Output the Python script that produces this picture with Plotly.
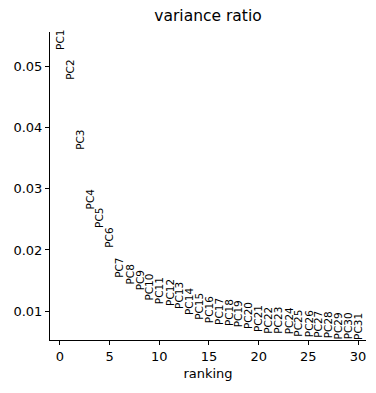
import plotly.graph_objects as go

ranking = list(range(31))
labels = [f"PC{i+1}" for i in range(31)]
variance_ratio = [0.0544, 0.0495, 0.0380, 0.0284, 0.0252, 0.0221, 0.0170, 0.0159,
                  0.0151, 0.0139, 0.0133, 0.0130, 0.0125, 0.0115, 0.0107, 0.0103,
                  0.0100, 0.0098, 0.0096, 0.0093, 0.0088, 0.0085, 0.0085, 0.0084,
                  0.0080, 0.0079, 0.0078, 0.0077, 0.0075, 0.0075, 0.0074]

fig = go.Figure()
fig.add_trace(go.Scatter(x=ranking, y=variance_ratio, mode="markers",
                         marker=dict(opacity=0), hoverinfo="skip", showlegend=False))
for x, y, t in zip(ranking, variance_ratio, labels):
    fig.add_annotation(x=x, y=y, text=t, textangle=-90, showarrow=False,
                       xanchor="center", yanchor="middle",
                       font=dict(family="DejaVu Sans", size=10.5, color="black"))

fig.update_layout(
    width=376, height=393,
    margin=dict(l=50, r=10, t=32, b=53),
    plot_bgcolor="white", paper_bgcolor="white",
    font=dict(family="DejaVu Sans", color="black"),
    title=dict(text="variance ratio", x=0.5, xanchor="center", xref="paper",
               y=1, yref="container", yanchor="top", pad=dict(t=10),
               font=dict(size=15.5, color="black")),
    showlegend=False,
)
fig.update_xaxes(range=[-1.0, 30.8], tickvals=[0, 5, 10, 15, 20, 25, 30],
                 showgrid=False, zeroline=False, showline=True, linecolor="black",
                 linewidth=1, ticks="outside", ticklen=4, tickcolor="black",
                 tickfont=dict(size=13), title=dict(text="ranking", font=dict(size=13), standoff=6))
fig.update_yaxes(range=[0.00525, 0.0557], tickvals=[0.01, 0.02, 0.03, 0.04, 0.05],
                 ticktext=["0.01", "0.02", "0.03", "0.04", "0.05"],
                 showgrid=False, zeroline=False, showline=True, linecolor="black",
                 linewidth=1, ticks="outside", ticklen=4, tickcolor="black",
                 tickfont=dict(size=13))

fig.write_html("out.html")
